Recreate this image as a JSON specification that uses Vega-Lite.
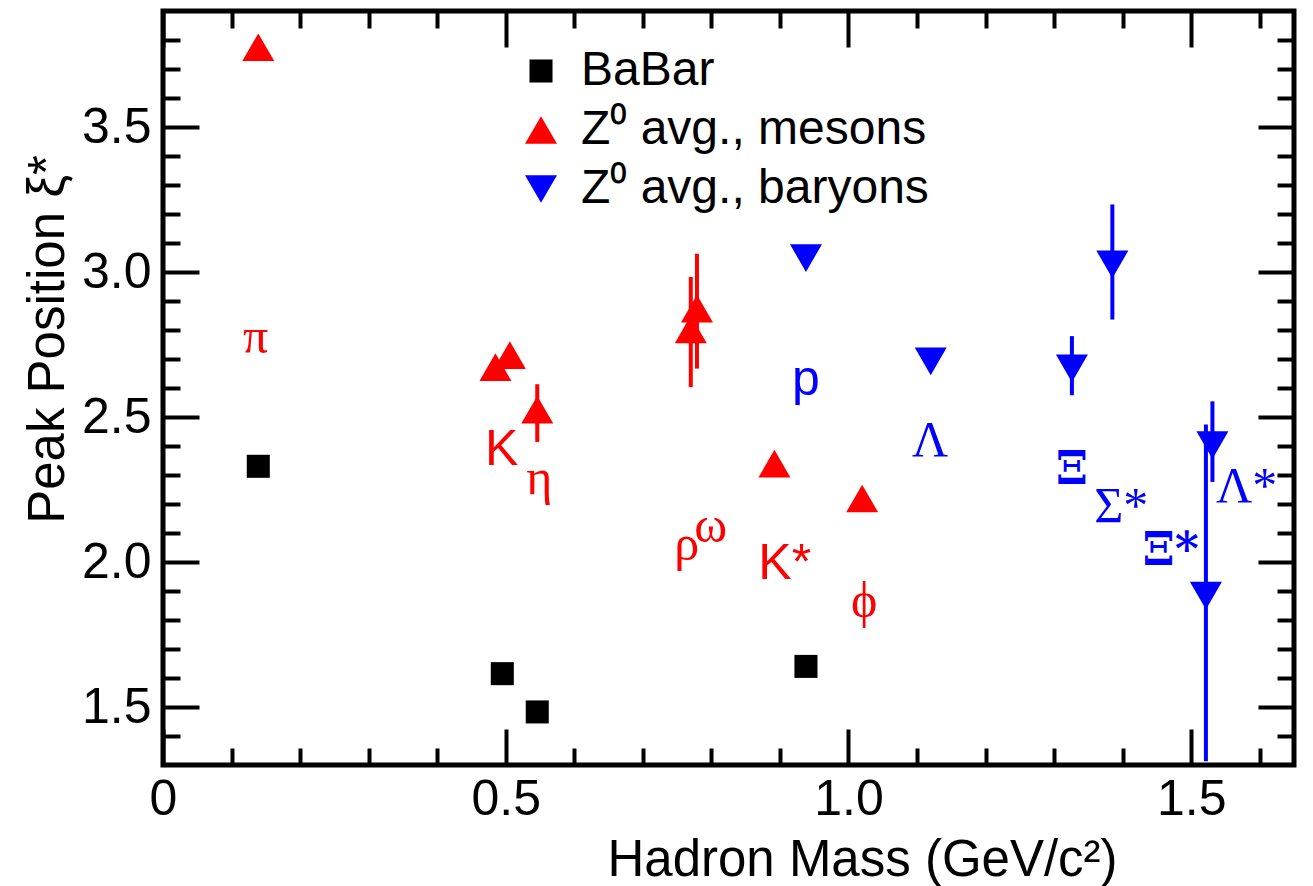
{
  "$schema": "https://vega.github.io/schema/vega-lite/v6.json",
  "width": 1131,
  "height": 754,
  "autosize": {"type": "none"},
  "padding": {"left": 163, "top": 11, "right": 19, "bottom": 121},
  "background": "white",
  "config": {
    "view": {"stroke": "black", "strokeWidth": 5},
    "font": "Liberation Sans",
    "axis": {
      "grid": false, "domain": false, "tickColor": "black", "tickWidth": 4,
      "labelColor": "black", "labelFont": "Liberation Sans", "labelFontSize": 50,
      "titleFont": "Liberation Sans", "titleFontSize": 51, "titleFontWeight": "normal",
      "titleColor": "black", "labelOverlap": false, "labelFlush": false
    }
  },
  "datasets": {
    "points": [
      {"group": "BaBar", "mass": 0.139, "xi": 2.33},
      {"group": "BaBar", "mass": 0.495, "xi": 1.615},
      {"group": "BaBar", "mass": 0.546, "xi": 1.483},
      {"group": "BaBar", "mass": 0.938, "xi": 1.64},
      {"group": "Z⁰ avg., mesons", "mass": 0.139, "xi": 3.775},
      {"group": "Z⁰ avg., mesons", "mass": 0.485, "xi": 2.672},
      {"group": "Z⁰ avg., mesons", "mass": 0.506, "xi": 2.713},
      {"group": "Z⁰ avg., mesons", "mass": 0.546, "xi": 2.525},
      {"group": "Z⁰ avg., mesons", "mass": 0.770, "xi": 2.802},
      {"group": "Z⁰ avg., mesons", "mass": 0.779, "xi": 2.874},
      {"group": "Z⁰ avg., mesons", "mass": 0.892, "xi": 2.339},
      {"group": "Z⁰ avg., mesons", "mass": 1.020, "xi": 2.219},
      {"group": "Z⁰ avg., baryons", "mass": 0.938, "xi": 3.048},
      {"group": "Z⁰ avg., baryons", "mass": 1.120, "xi": 2.692},
      {"group": "Z⁰ avg., baryons", "mass": 1.326, "xi": 2.668},
      {"group": "Z⁰ avg., baryons", "mass": 1.385, "xi": 3.026},
      {"group": "Z⁰ avg., baryons", "mass": 1.5215, "xi": 1.884},
      {"group": "Z⁰ avg., baryons", "mass": 1.531, "xi": 2.403}
    ],
    "errors": [
      {"group": "Z⁰ avg., mesons", "mass": 0.546, "lo": 2.414, "hi": 2.613},
      {"group": "Z⁰ avg., mesons", "mass": 0.770, "lo": 2.603, "hi": 2.983},
      {"group": "Z⁰ avg., mesons", "mass": 0.779, "lo": 2.667, "hi": 3.063},
      {"group": "Z⁰ avg., baryons", "mass": 1.385, "lo": 2.836, "hi": 3.233},
      {"group": "Z⁰ avg., baryons", "mass": 1.326, "lo": 2.575, "hi": 2.779},
      {"group": "Z⁰ avg., baryons", "mass": 1.531, "lo": 2.276, "hi": 2.554},
      {"group": "Z⁰ avg., baryons", "mass": 1.5215, "lo": 1.313, "hi": 2.474}
    ],
    "serifLabels": [
      {"group": "Z⁰ avg., mesons", "name": "π", "mass": 0.135, "xi": 2.72},
      {"group": "Z⁰ avg., mesons", "name": "η", "mass": 0.549, "xi": 2.236},
      {"group": "Z⁰ avg., mesons", "name": "ρ", "mass": 0.764, "xi": 2.006},
      {"group": "Z⁰ avg., mesons", "name": "ω", "mass": 0.799, "xi": 2.069},
      {"group": "Z⁰ avg., mesons", "name": "ϕ", "mass": 1.023, "xi": 1.81},
      {"group": "Z⁰ avg., baryons", "name": "Λ", "mass": 1.119, "xi": 2.367},
      {"group": "Z⁰ avg., baryons", "name": "Σ*", "mass": 1.398, "xi": 2.138},
      {"group": "Z⁰ avg., baryons", "name": "Λ*", "mass": 1.581, "xi": 2.207}
    ],
    "xiLabels": [
      {"group": "Z⁰ avg., baryons", "name": "Ξ", "mass": 1.326, "xi": 2.27},
      {"group": "Z⁰ avg., baryons", "name": "Ξ*", "mass": 1.470, "xi": 1.99}
    ],
    "sansLabels": [
      {"group": "Z⁰ avg., mesons", "name": "K", "mass": 0.494, "xi": 2.333},
      {"group": "Z⁰ avg., mesons", "name": "K*", "mass": 0.907, "xi": 1.943},
      {"group": "Z⁰ avg., baryons", "name": "p", "mass": 0.938, "xi": 2.575}
    ]
  },
  "layer": [
    {
      "data": {"name": "errors"},
      "mark": {"type": "rule", "strokeWidth": 4},
      "encoding": {
        "x": {
          "field": "mass", "type": "quantitative",
          "scale": {"domain": [0, 1.65], "nice": false, "zero": false},
          "axis": {
            "orient": "bottom", "values": [0, 0.5, 1, 1.5],
            "labelExpr": "datum.value == 0 ? '0' : format(datum.value, '.1f')",
            "tickSize": -36, "labelPadding": 45,
            "title": "Hadron Mass (GeV/c²)", "titleX": 699, "titleY": 110,
            "titleAlign": "center", "titleBaseline": "alphabetic"
          }
        },
        "y": {
          "field": "lo", "type": "quantitative",
          "scale": {"domain": [1.3, 3.9], "nice": false, "zero": false},
          "axis": {
            "orient": "left", "values": [1.5, 2, 2.5, 3, 3.5], "format": ".1f",
            "tickSize": -36, "labelPadding": 48,
            "title": "Peak Position ξ*", "titleX": -100, "titleY": 328,
            "titleAngle": 270, "titleAlign": "center", "titleBaseline": "alphabetic"
          }
        },
        "y2": {"field": "hi"},
        "color": {
          "field": "group", "type": "nominal",
          "scale": {"domain": ["BaBar", "Z⁰ avg., mesons", "Z⁰ avg., baryons"], "range": ["#000000", "#ff0000", "#0000ff"]},
          "legend": null
        }
      }
    },
    {
      "data": {"name": "points"},
      "mark": {"type": "point", "filled": true, "opacity": 1, "size": 1024, "strokeWidth": 0},
      "encoding": {
        "x": {
          "field": "mass", "type": "quantitative",
          "scale": {"domain": [0, 1.65], "nice": false, "zero": false},
          "axis": {
            "orient": "bottom",
            "values": [0.1, 0.2, 0.3, 0.4, 0.6, 0.7, 0.8, 0.9, 1.1, 1.2, 1.3, 1.4, 1.6],
            "tickSize": -17, "labels": false, "title": null
          }
        },
        "y": {
          "field": "xi", "type": "quantitative",
          "scale": {"domain": [1.3, 3.9], "nice": false, "zero": false},
          "axis": {
            "orient": "left",
            "values": [1.4, 1.6, 1.7, 1.8, 1.9, 2.1, 2.2, 2.3, 2.4, 2.6, 2.7, 2.8, 2.9, 3.1, 3.2, 3.3, 3.4, 3.6, 3.7, 3.8],
            "tickSize": -17, "labels": false, "title": null
          }
        },
        "color": {
          "field": "group", "type": "nominal",
          "scale": {"domain": ["BaBar", "Z⁰ avg., mesons", "Z⁰ avg., baryons"], "range": ["#000000", "#ff0000", "#0000ff"]},
          "legend": {
            "title": null, "orient": "none", "legendX": 354, "legendY": 36,
            "labelFontSize": 48, "labelFont": "Liberation Sans", "labelColor": "black", "labelLimit": 0,
            "symbolSize": 1024, "symbolOpacity": 1, "symbolStrokeWidth": 0,
            "labelOffset": 16, "rowPadding": 11, "padding": 0
          }
        },
        "shape": {
          "field": "group", "type": "nominal",
          "scale": {
            "domain": ["BaBar", "Z⁰ avg., mesons", "Z⁰ avg., baryons"],
            "range": ["M-0.72,-0.72L0.72,-0.72L0.72,0.72L-0.72,0.72Z", "M0,-0.866L1,0.866L-1,0.866Z", "M0,0.866L1,-0.866L-1,-0.866Z"]
          },
          "legend": {
            "title": null, "orient": "none", "legendX": 354, "legendY": 36,
            "labelFontSize": 48, "labelFont": "Liberation Sans", "labelColor": "black", "labelLimit": 0,
            "symbolSize": 1024, "symbolOpacity": 1, "symbolStrokeWidth": 0,
            "labelOffset": 16, "rowPadding": 11, "padding": 0
          }
        }
      }
    },
    {
      "data": {"name": "serifLabels"},
      "mark": {"type": "text", "font": "Liberation Serif", "fontSize": 50, "align": "center", "baseline": "alphabetic"},
      "encoding": {
        "x": {
          "field": "mass", "type": "quantitative",
          "scale": {"domain": [0, 1.65], "nice": false, "zero": false},
          "axis": {"orient": "top", "values": [0, 0.5, 1, 1.5], "tickSize": -36, "labels": false, "title": null}
        },
        "y": {
          "field": "xi", "type": "quantitative",
          "scale": {"domain": [1.3, 3.9], "nice": false, "zero": false},
          "axis": {"orient": "right", "values": [1.5, 2, 2.5, 3, 3.5], "tickSize": -36, "labels": false, "title": null}
        },
        "text": {"field": "name"},
        "color": {
          "field": "group", "type": "nominal",
          "scale": {"domain": ["BaBar", "Z⁰ avg., mesons", "Z⁰ avg., baryons"], "range": ["#000000", "#ff0000", "#0000ff"]},
          "legend": null
        }
      }
    },
    {
      "data": {"name": "xiLabels"},
      "mark": {"type": "text", "font": "DejaVu Serif", "fontSize": 46, "fontWeight": "bold", "align": "center", "baseline": "alphabetic"},
      "encoding": {
        "x": {
          "field": "mass", "type": "quantitative",
          "scale": {"domain": [0, 1.65], "nice": false, "zero": false},
          "axis": null
        },
        "y": {
          "field": "xi", "type": "quantitative",
          "scale": {"domain": [1.3, 3.9], "nice": false, "zero": false},
          "axis": null
        },
        "text": {"field": "name"},
        "color": {
          "field": "group", "type": "nominal",
          "scale": {"domain": ["BaBar", "Z⁰ avg., mesons", "Z⁰ avg., baryons"], "range": ["#000000", "#ff0000", "#0000ff"]},
          "legend": null
        }
      }
    },
    {
      "data": {"name": "sansLabels"},
      "mark": {"type": "text", "font": "Liberation Sans", "fontSize": 50, "align": "center", "baseline": "alphabetic"},
      "encoding": {
        "x": {
          "field": "mass", "type": "quantitative",
          "scale": {"domain": [0, 1.65], "nice": false, "zero": false},
          "axis": {
            "orient": "top",
            "values": [0.1, 0.2, 0.3, 0.4, 0.6, 0.7, 0.8, 0.9, 1.1, 1.2, 1.3, 1.4, 1.6],
            "tickSize": -17, "labels": false, "title": null
          }
        },
        "y": {
          "field": "xi", "type": "quantitative",
          "scale": {"domain": [1.3, 3.9], "nice": false, "zero": false},
          "axis": {
            "orient": "right",
            "values": [1.4, 1.6, 1.7, 1.8, 1.9, 2.1, 2.2, 2.3, 2.4, 2.6, 2.7, 2.8, 2.9, 3.1, 3.2, 3.3, 3.4, 3.6, 3.7, 3.8],
            "tickSize": -17, "labels": false, "title": null
          }
        },
        "text": {"field": "name"},
        "color": {
          "field": "group", "type": "nominal",
          "scale": {"domain": ["BaBar", "Z⁰ avg., mesons", "Z⁰ avg., baryons"], "range": ["#000000", "#ff0000", "#0000ff"]},
          "legend": null
        }
      }
    }
  ],
  "resolve": {
    "axis": {"x": "independent", "y": "independent"},
    "legend": {"color": "independent", "shape": "independent"}
  }
}
